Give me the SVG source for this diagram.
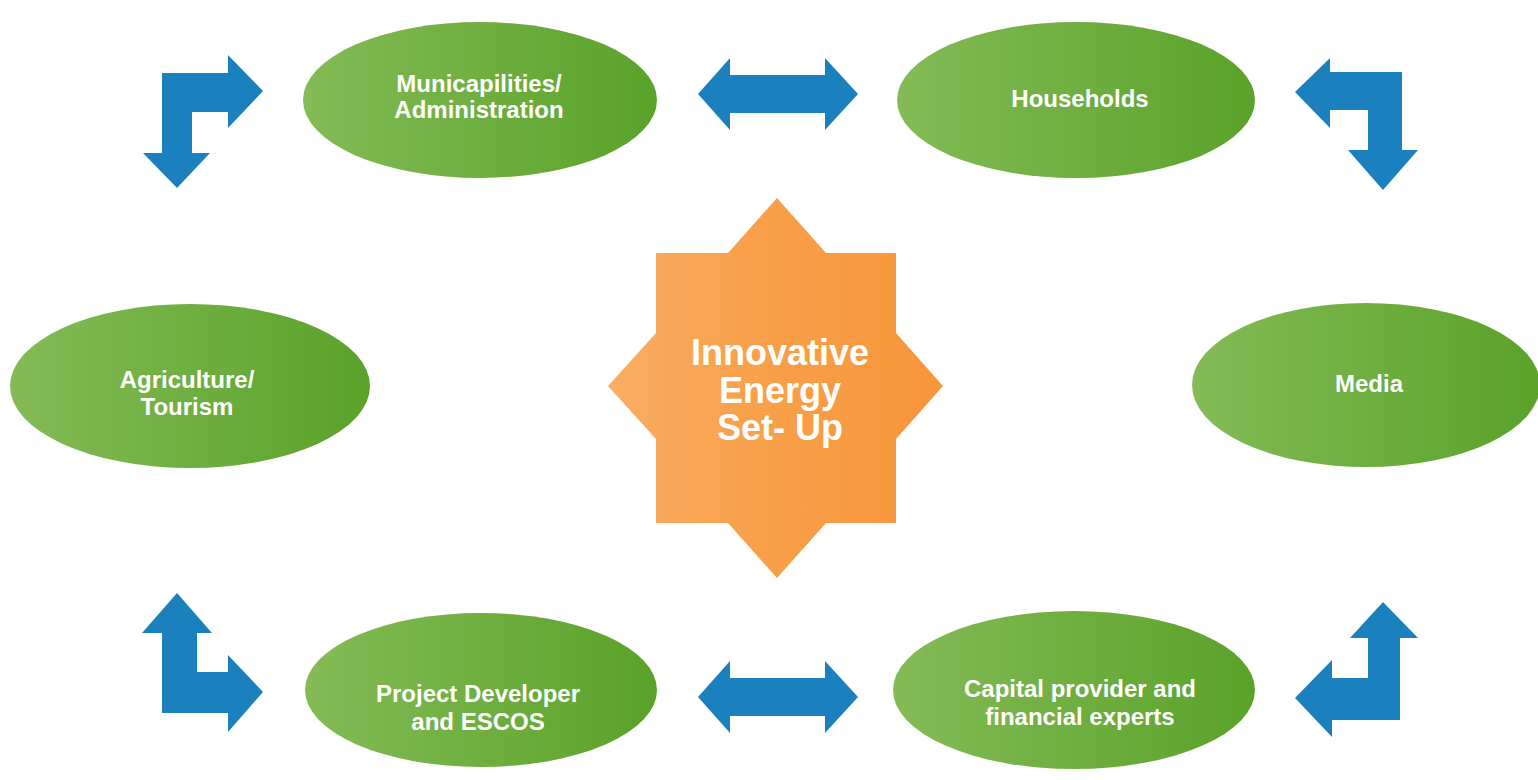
<svg xmlns="http://www.w3.org/2000/svg" width="1538" height="780" viewBox="0 0 1538 780">
<defs>
<linearGradient id="g" x1="0" y1="0" x2="1" y2="0">
<stop offset="0" stop-color="#84bb56"/>
<stop offset="1" stop-color="#5aa22a"/>
</linearGradient>
<linearGradient id="o" x1="0" y1="0" x2="1" y2="0">
<stop offset="0" stop-color="#f9ad64"/>
<stop offset="0.45" stop-color="#f8a04a"/>
<stop offset="1" stop-color="#f7953a"/>
</linearGradient>
<style>
.n{fill:url(#g)}
.t{fill:#ffffff;font-family:"Liberation Sans",Arial,sans-serif;font-weight:bold;font-size:24px;text-anchor:middle}
.c{fill:#ffffff;font-family:"Liberation Sans",Arial,sans-serif;font-weight:bold;font-size:36px;text-anchor:middle}
.a{fill:#1b80be}
</style>
</defs>
<rect width="1538" height="780" fill="#ffffff"/>
<g id="connectors">
<path class="a" d="M162,73 L228,73 L228,55 L263,91 L228,128 L228,112 L192,112 L192,153 L210,153 L177,188 L143,153 L162,153 Z"/>
<path class="a" d="M1402,72 L1330,72 L1330,58 L1295,92 L1330,128 L1330,110 L1368,110 L1368,150 L1348,150 L1383,190 L1418,150 L1402,150 Z"/>
<path class="a" d="M162,713 L162,633 L142,633 L177,593 L212,633 L197,633 L197,672 L228,672 L228,655 L263,692 L228,732 L228,713 Z"/>
<path class="a" d="M1400,720 L1400,638 L1418,638 L1383,602 L1350,638 L1368,638 L1368,678 L1332,678 L1332,660 L1295,698 L1332,737 L1332,720 Z"/>
<path class="a" d="M698,94 L730,58 L730,75 L825,75 L825,58 L858,94 L825,130 L825,113 L730,113 L730,130 Z"/>
<path class="a" d="M698,697 L730,661 L730,678 L825,678 L825,661 L858,697 L825,733 L825,716 L730,716 L730,733 Z"/>
</g>
<g id="center">
<path fill="url(#o)" d="M656,253 L728,253 L777,198 L826,253 L896,253 L896,333 L943,386 L896,439 L896,523 L826,523 L777,578 L728,523 L656,523 L656,439 L608,386 L656,333 Z"/>
<text class="c" x="780" y="365">Innovative</text>
<text class="c" x="780" y="403">Energy</text>
<text class="c" x="780" y="440">Set- Up</text>
</g>
<g id="municipalities">
<ellipse class="n" cx="480" cy="100" rx="177" ry="78"/>
<text class="t" x="479" y="92">Municapilities/</text>
<text class="t" x="479" y="118">Administration</text>
</g>
<g id="households">
<ellipse class="n" cx="1076" cy="100" rx="179" ry="78"/>
<text class="t" x="1080" y="107">Households</text>
</g>
<g id="agriculture">
<ellipse class="n" cx="190" cy="386" rx="180" ry="82"/>
<text class="t" x="187" y="388">Agriculture/</text>
<text class="t" x="187" y="415">Tourism</text>
</g>
<g id="media">
<ellipse class="n" cx="1366" cy="385" rx="174" ry="82"/>
<text class="t" x="1369" y="392">Media</text>
</g>
<g id="developer">
<ellipse class="n" cx="481" cy="690" rx="176" ry="77"/>
<text class="t" x="478" y="702">Project Developer</text>
<text class="t" x="478" y="730">and ESCOS</text>
</g>
<g id="capital">
<ellipse class="n" cx="1074" cy="690" rx="181" ry="79"/>
<text class="t" x="1080" y="697">Capital provider and</text>
<text class="t" x="1080" y="725">financial experts</text>
</g>
</svg>
